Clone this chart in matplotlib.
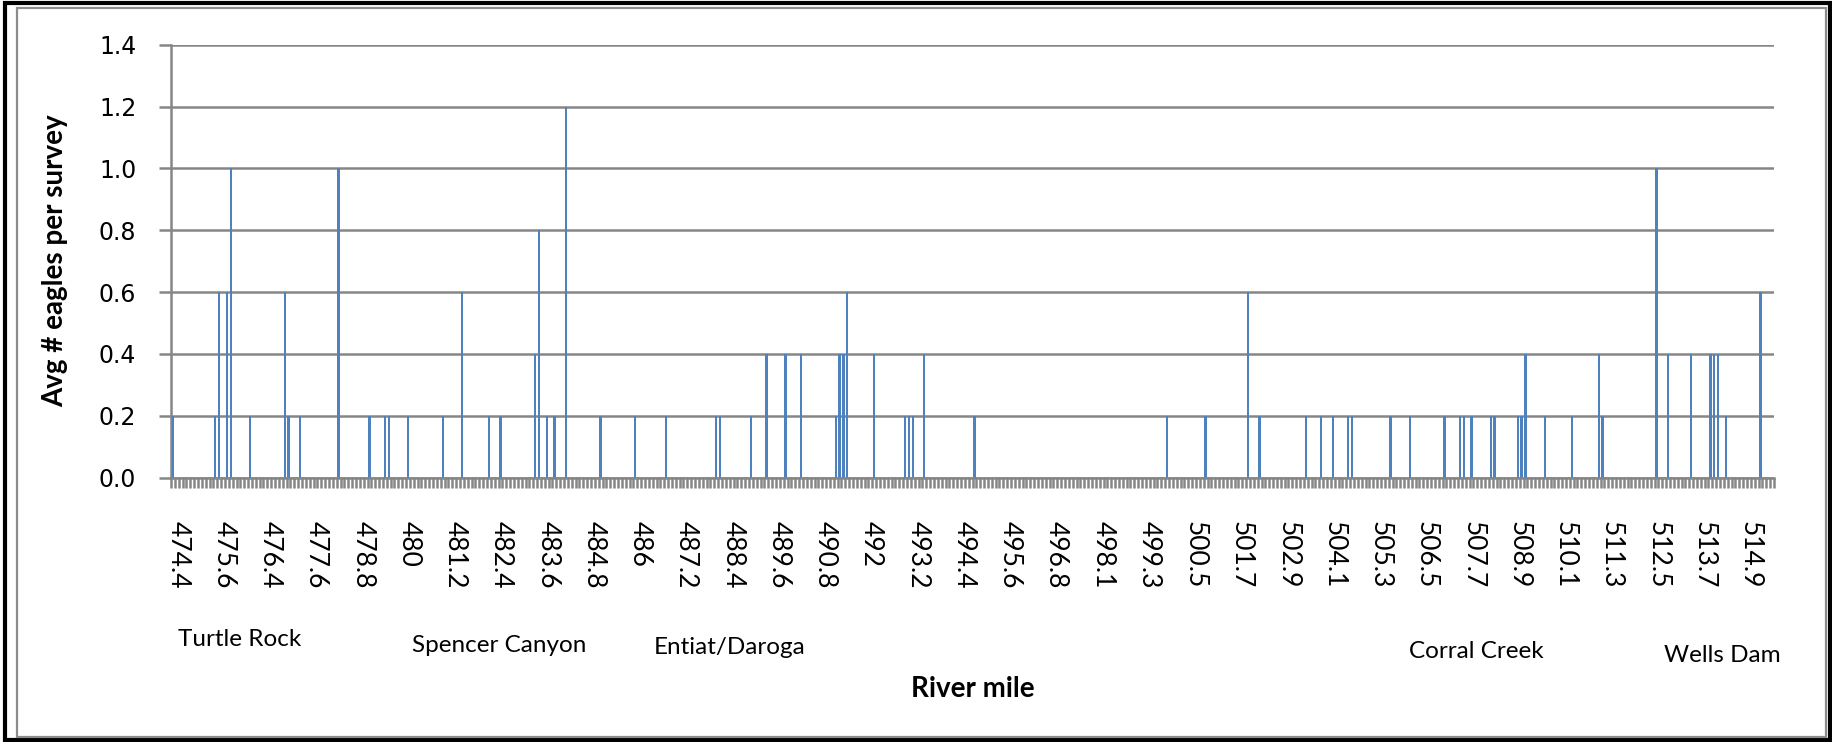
import numpy as np
import matplotlib
matplotlib.use("Agg")
import matplotlib.pyplot as plt
from matplotlib.patches import Rectangle
import matplotlib.transforms as mtransforms

# ---------------- data ----------------
n_categories = 416          # river-mile categories on the x axis (474.4 ... ~515.4)
label_every = 12            # Excel shows every 12th category label
tick_labels = ["474.4", "475.6", "476.4", "477.6", "478.8", "480", "481.2", "482.4",
               "483.6", "484.8", "486", "487.2", "488.4", "489.6", "490.8", "492",
               "493.2", "494.4", "495.6", "496.8", "498.1", "499.3", "500.5", "501.7",
               "502.9", "504.1", "505.3", "506.5", "507.7", "508.9", "510.1", "511.3",
               "512.5", "513.7", "514.9"]

# non-zero bars: category index and average eagles per survey
bar_category = [0, 11, 12, 14, 15, 20, 29, 30, 33, 43, 51, 55, 56, 61,
                70, 75, 82, 85, 94, 95, 97, 99, 102, 111, 120, 128, 141, 142,
                150, 154, 159, 163, 172, 173, 174, 175, 182, 190, 191, 192, 195, 208,
                258, 268, 279, 282, 294, 298, 301, 305, 306, 316, 321, 330,
                334, 335, 337, 342, 343, 349, 350, 351, 356, 363, 370, 371,
                385, 388, 394, 399, 400, 401, 403, 412]
bar_value = [0.2, 0.2, 0.6, 0.6, 1.0, 0.2, 0.6, 0.2, 0.2, 1.0, 0.2, 0.2, 0.2, 0.2,
             0.2, 0.6, 0.2, 0.2, 0.4, 0.8, 0.2, 0.2, 1.2, 0.2, 0.2, 0.2, 0.2, 0.2,
             0.2, 0.4, 0.4, 0.4, 0.2, 0.4, 0.4, 0.6, 0.4, 0.2, 0.2, 0.2, 0.4, 0.2,
             0.2, 0.2, 0.6, 0.2, 0.2, 0.2, 0.2, 0.2, 0.2, 0.2, 0.2, 0.2,
             0.2, 0.2, 0.2, 0.2, 0.2, 0.2, 0.2, 0.4, 0.2, 0.2, 0.4, 0.2,
             1.0, 0.4, 0.4, 0.4, 0.4, 0.4, 0.2, 0.6]

y_ticks = [0.0, 0.2, 0.4, 0.6, 0.8, 1.0, 1.2, 1.4]

place_names = ["Turtle Rock", "Spencer Canyon", "Entiat/Daroga", "Corral Creek", "Wells Dam"]

# ---------------- figure ----------------
W, H = 1832, 742
fig = plt.figure(figsize=(W / 100, H / 100), dpi=100)
fig.patch.set_facecolor("white")

def fx(px):
    return px / W

def fy(py):
    return 1 - py / H

left, right, top, bottom = 171, 1774, 44.7, 477.7
ax = fig.add_axes([fx(left), fy(bottom), fx(right - left), (bottom - top) / H])

values = np.zeros(n_categories)
values[bar_category] = bar_value
x = np.arange(n_categories)
ax.bar(x, values, width=0.6, color="#4F81BD", linewidth=0, zorder=3, antialiased=False)

grid_c = "#868686"
ax.set_xlim(-0.5, n_categories - 0.5)
ax.set_ylim(0, 1.4)
ax.set_yticks(y_ticks)
ax.set_yticklabels([f"{v:.1f}" for v in y_ticks], fontsize=17, family="DejaVu Sans")
ax.yaxis.grid(True, color=grid_c, linewidth=1.8)
ax.set_axisbelow(True)
ax.tick_params(axis="y", direction="out", length=9, width=1.8, color=grid_c, pad=16)

# x ticks: labels every 12 categories, small tick marks at each category boundary
ax.set_xticks(np.arange(len(tick_labels)) * label_every)
ax.set_xticklabels(tick_labels, rotation=-90, fontsize=19, family="Lato")
ax.set_xticks(np.arange(n_categories + 1) - 0.5, minor=True)
ax.tick_params(axis="x", which="major", length=0, pad=31)
ax.tick_params(axis="x", which="minor", direction="out", length=7.5, width=1.8, color=grid_c)
offset = mtransforms.ScaledTranslation(5 / 100, 0, fig.dpi_scale_trans)
for lab in ax.get_xticklabels():
    lab.set_transform(lab.get_transform() + offset)
    lab.set_va("top")

for s in ["top", "right"]:
    ax.spines[s].set_visible(False)
for s in ["left", "bottom"]:
    ax.spines[s].set_color(grid_c)
    ax.spines[s].set_linewidth(1.8)
ax.spines["bottom"].set_zorder(4)

# axis titles
fig.text(fx(55), fy(261), "Avg # eagles per survey", rotation=90, ha="center", va="center",
         fontsize=20, fontweight="bold", family="Lato")
fig.text(fx(973), fy(689), "River mile", ha="center", va="center",
         fontsize=20, fontweight="bold", family="Lato")

# place names under the axis (x in category units)
place_x = [17.4, 84.6, 144.6, 338.2, 402.0]
place_y = [640, 646, 647, 651, 655]
trans = mtransforms.blended_transform_factory(ax.transData, fig.transFigure)
for name, px_, py_ in zip(place_names, place_x, place_y):
    fig.text(px_, fy(py_), name, transform=trans, ha="center", va="center",
             fontsize=17.5, family="Lato")

# outer frames
fig.patches.append(Rectangle((fx(5), fy(740)), fx(1830 - 5), (740 - 3) / H,
                             transform=fig.transFigure, fill=False, edgecolor="black",
                             linewidth=3.0))
fig.patches.append(Rectangle((fx(16.5), fy(736.5)), fx(1826 - 16.5), (736.5 - 7.5) / H,
                             transform=fig.transFigure, fill=False, edgecolor="#8c8c8c",
                             linewidth=1.6))

fig.savefig("out.png", dpi=100, facecolor="white")
